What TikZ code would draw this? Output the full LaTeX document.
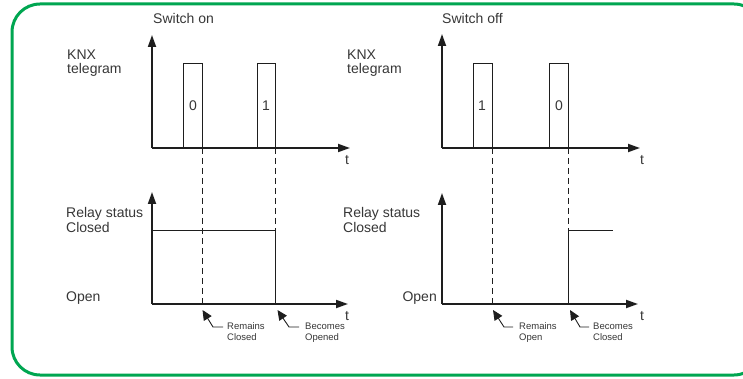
\documentclass[tikz,border=0pt]{standalone}
\usepackage{fontspec}
\setmainfont{Liberation Sans}
\usetikzlibrary{arrows.meta}
\definecolor{frameg}{RGB}{0,166,81}
\definecolor{ink}{RGB}{30,30,30}
\definecolor{txt}{RGB}{55,55,55}
\tikzset{
  axis/.style={draw=ink, line width=1.8pt, -{Triangle[length=12pt,width=8pt]}},
  pulse/.style={draw=ink, line width=0.9pt},
  level/.style={draw=ink, line width=1pt},
  guide/.style={draw=ink, line width=0.9pt, dash pattern=on 6pt off 4pt},
  annot/.style={draw=ink, line width=0.9pt, -{Triangle[length=10pt,width=9pt]}},
  lbl/.style={text=txt, inner sep=0pt, font=\fontsize{14}{14}\selectfont},
  small/.style={text=txt, inner sep=0pt, align=left, font=\fontsize{9.5}{11}\selectfont},
}
\begin{document}
\begin{tikzpicture}[x=1pt,y=-1pt]
\useasboundingbox (0,0) rectangle (743,379);
\clip (0,0) rectangle (743,379);
\fill[white] (0,0) rectangle (743,379);
% rounded green frame; its right side lies beyond the page edge
\draw[frameg, line width=3pt, rounded corners=28pt] (12,4) -- (762,4) -- (762,375) -- (12,375) -- cycle;

% ---------- Switch on ----------
\coordinate (o1) at (152,148);
\coordinate (y1) at (152,35);
\coordinate (x1) at (350,148);
\coordinate (o2) at (152,304);
\coordinate (y2) at (152,192);
\coordinate (x2) at (348,304);
\node[lbl, anchor=base west] (son) at (153,24) {Switch on};
\node[lbl, anchor=base west] (knxa) at (67,60) {KNX};
\node[lbl, anchor=base west] (tela) at (67,74) {telegram};
\draw[axis] (o1) -- (y1);
\draw[axis] (o1) -- (x1);
\node[lbl] (ta) at (347,160) {t};
\draw[pulse] (183,148) -- (183,63) -- (202,63) -- (202,148);
\draw[pulse] (257,148) -- (257,63) -- (275,63) -- (275,148);
\node[lbl] (p0a) at (193,106) {0};
\node[lbl] (p1a) at (266,106) {1};
\node[lbl, anchor=base west] (rsa) at (66,218) {Relay status};
\node[lbl, anchor=base west] (cla) at (66,233) {Closed};
\node[lbl, anchor=base west] (opa) at (66,301) {Open};
\draw[axis] (o2) -- (y2);
\draw[axis] (o2) -- (x2);
\node[lbl] (tb) at (347,316) {t};
\draw[level] (152,230) -- (275,230) -- (275,304);
\draw[guide] (202,148) -- (202,304);
\draw[guide] (275,148) -- (275,230);
\coordinate (ra1) at (202.5,310);
\coordinate (rb1) at (277.5,310);
\node[small, anchor=north west] (rem1) at (227,322.5) {Remains\\Closed};
\node[small, anchor=north west] (bec1) at (305,322.5) {Becomes\\Opened};
\draw[annot] (223,327) -- (213,327) -- (ra1);
\draw[annot] (299,327) -- (289,327) -- (rb1);

% ---------- Switch off ----------
\coordinate (o3) at (442,148);
\coordinate (y3) at (442,34);
\coordinate (x3) at (640,148);
\coordinate (o4) at (442,304);
\coordinate (y4) at (442,193);
\coordinate (x4) at (638,304);
\node[lbl, anchor=base west] (soff) at (442,24) {Switch off};
\node[lbl, anchor=base west] (knxb) at (347,60) {KNX};
\node[lbl, anchor=base west] (telb) at (347,74) {telegram};
\draw[axis] (o3) -- (y3);
\draw[axis] (o3) -- (x3);
\node[lbl] (tc) at (642,160) {t};
\draw[pulse] (473,148) -- (473,63) -- (492,63) -- (492,148);
\draw[pulse] (549,148) -- (549,63) -- (568,63) -- (568,148);
\node[lbl] (p1b) at (482,106) {1};
\node[lbl] (p0b) at (559,106) {0};
\node[lbl, anchor=base west] (rsb) at (343,218) {Relay status};
\node[lbl, anchor=base west] (clb) at (343,233) {Closed};
\node[lbl, anchor=base east] (opb) at (437,301) {Open};
\draw[axis] (o4) -- (y4);
\draw[axis] (o4) -- (x4);
\node[lbl] (td) at (642,316) {t};
\draw[level] (568,304) -- (568,230) -- (613,230);
\draw[guide] (492,148) -- (492,304);
\draw[guide] (568,148) -- (568,230);
\coordinate (ra2) at (493,310);
\coordinate (rb2) at (570,310);
\node[small, anchor=north west] (rem2) at (519,322.5) {Remains\\Open};
\node[small, anchor=north west] (bec2) at (593,322.5) {Becomes\\Closed};
\draw[annot] (513,327) -- (504,327) -- (ra2);
\draw[annot] (589,327) -- (580,327) -- (rb2);
\end{tikzpicture}
\end{document}
